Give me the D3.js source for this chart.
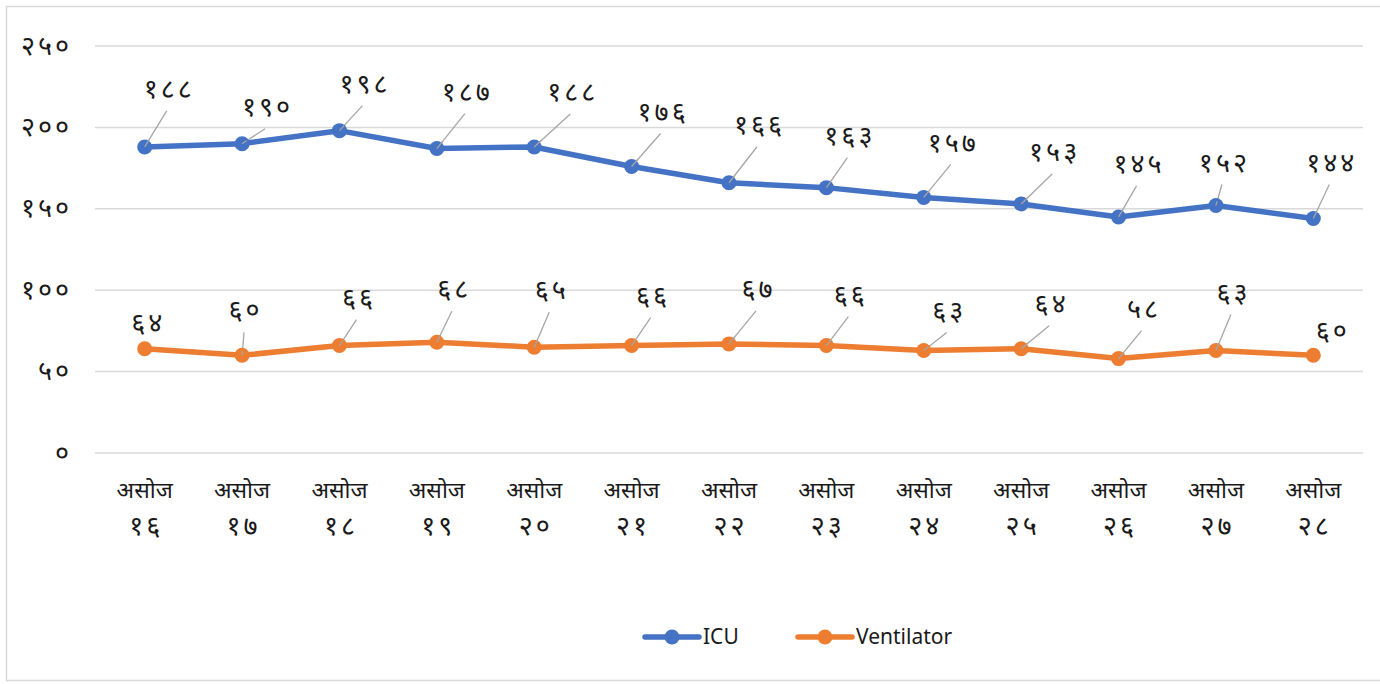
<!DOCTYPE html>
<html><head><meta charset="utf-8">
<script src="https://cdn.jsdelivr.net/npm/d3@7"></script>
<style>body{margin:0;background:#fff}svg{display:block}text{font-family:"Noto Sans","Noto Sans Devanagari","Lato",sans-serif}</style>
</head><body><svg id="c" width="1380" height="684"></svg>
<script>
const months = ["असोज","असोज","असोज","असोज","असोज","असोज","असोज","असोज","असोज","असोज","असोज","असोज","असोज"];
const days = ["१६","१७","१८","१९","२०","२१","२२","२३","२४","२५","२६","२७","२८"];
const icu = [188,190,198,187,188,176,166,163,157,153,145,152,144];
const ventilator = [64,60,66,68,65,66,67,66,63,64,58,63,60];
const yTicks = [0,50,100,150,200,250];
const devDigits = "०१२३४५६७८९";
const toDev = n => String(n).replace(/\d/g, d => devDigits[+d]);

// label offsets (layout, px) relative to points
const icuLabelOff = [[23,-57],[24,-36],[24,-46],[29,-56],[37,-54],[30,-54],[29,-57],[22,-51],[28,-54],[32,-51],[19,-52],[7,-42],[17,-55]];
const ventLabelOff = [[2,-25],[2,-44],[18,-47],[16,-52],[16,-56],[20,-49],[28,-54],[23,-50],[24,-39],[29,-44],[24,-49],[16,-57],[18,-23]];
const ventLeader = [false,true,true,true,true,true,true,true,true,true,true,true,false];

const numSize = 27, numSpacing = 3;
const svg = d3.select("#c");
svg.append("rect").attr("x",6.5).attr("y",6.5).attr("width",1380).attr("height",674)
  .attr("fill","none").attr("stroke","#d9d9d9").attr("stroke-width",1.5);

const mLeft = 96, mRight = 1362, mTop = 46, mBottom = 453;
const x = d3.scaleBand().domain(d3.range(icu.length)).range([mLeft,mRight]);
const y = d3.scaleLinear().domain([0,250]).range([mBottom,mTop]);
const cx = i => x(i) + x.bandwidth()/2;

// gridlines
svg.append("g").selectAll("line").data(yTicks).join("line")
  .attr("x1",mLeft-1).attr("x2",mRight+1).attr("y1",d=>y(d)).attr("y2",d=>y(d))
  .attr("stroke","#d9d9d9").attr("stroke-width",1.5);

// y axis labels
const yAxis = d3.axisLeft(y).tickValues(yTicks).tickFormat(toDev).tickSize(0).tickPadding(24);
const ga = svg.append("g").attr("transform",`translate(${mLeft},0)`).call(yAxis);
ga.select(".domain").remove();
ga.selectAll("text").attr("font-size",numSize).attr("letter-spacing",numSpacing)
  .attr("fill","#1a1a1a").attr("font-family",null).attr("dy","0.3em");

// x axis labels
const xg = svg.append("g");
xg.selectAll("text.m").data(months).join("text").attr("class","m")
  .attr("x",(d,i)=>cx(i)).attr("y",498).attr("text-anchor","middle")
  .attr("font-size",23).attr("fill","#1a1a1a").text(d=>d);
xg.selectAll("text.d").data(days).join("text").attr("class","d")
  .attr("x",(d,i)=>cx(i)+numSpacing/2).attr("y",535).attr("text-anchor","middle")
  .attr("font-size",numSize).attr("letter-spacing",numSpacing).attr("fill","#1a1a1a").text(d=>d);

function drawSeries(data, color, offs, leaders){
  const line = d3.line().x((d,i)=>cx(i)).y(d=>y(d));
  svg.append("path").datum(data).attr("d",line).attr("fill","none")
    .attr("stroke",color).attr("stroke-width",5.5).attr("stroke-linejoin","round");
  const idx = d3.range(data.length);
  svg.append("g").selectAll("line").data(idx.filter(i=>leaders[i])).join("line")
    .attr("x1",i=>cx(i)).attr("y1",i=>y(data[i]))
    .attr("x2",i=>cx(i)+offs[i][0]-(offs[i][0]>4?1:0))
    .attr("y2",i=>y(data[i])+offs[i][1]+21)
    .attr("stroke","#a6a6a6").attr("stroke-width",1.3);
  svg.append("g").selectAll("circle").data(idx).join("circle")
    .attr("cx",i=>cx(i)).attr("cy",i=>y(data[i])).attr("r",7.5).attr("fill",color);
  // leader lines drawn over markers as in reference
  svg.append("g").selectAll("line").data(idx.filter(i=>leaders[i])).join("line")
    .attr("x1",i=>cx(i)).attr("y1",i=>y(data[i]))
    .attr("x2",i=>cx(i)+(offs[i][0]-(offs[i][0]>4?1:0))*0.2)
    .attr("y2",i=>y(data[i])+(offs[i][1]+21)*0.2)
    .attr("stroke","#a6a6a6").attr("stroke-width",1.3);
  svg.append("g").selectAll("text").data(idx).join("text")
    .attr("x",i=>cx(i)+offs[i][0]+numSpacing/2).attr("y",i=>y(data[i])+offs[i][1])
    .attr("dy","0.3em").attr("text-anchor","middle").attr("font-size",numSize)
    .attr("letter-spacing",numSpacing)
    .attr("fill","#1a1a1a").text(i=>toDev(data[i]));
}
drawSeries(icu,"#4472C4",icuLabelOff,icu.map(()=>true));
drawSeries(ventilator,"#ED7D31",ventLabelOff,ventLeader);

// legend
const legend = [{name:"ICU",color:"#4472C4",x:645},{name:"Ventilator",color:"#ED7D31",x:798}];
const lg = svg.append("g").selectAll("g").data(legend).join("g").attr("transform",d=>`translate(${d.x},637)`);
lg.append("line").attr("x1",0).attr("x2",54).attr("stroke",d=>d.color).attr("stroke-width",5.5).attr("stroke-linecap","round");
lg.append("circle").attr("cx",27).attr("r",7.5).attr("fill",d=>d.color);
lg.append("text").attr("x",58).attr("dy","0.35em").attr("font-size",21).attr("fill","#1a1a1a").text(d=>d.name);
</script></body></html>
